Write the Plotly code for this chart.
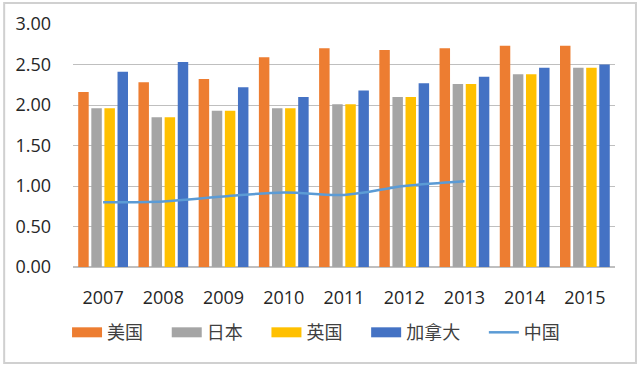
import plotly.graph_objects as go

years = ["2007", "2008", "2009", "2010", "2011", "2012", "2013", "2014", "2015"]
usa = [2.16, 2.28, 2.32, 2.59, 2.70, 2.68, 2.70, 2.73, 2.73]
japan = [1.96, 1.85, 1.93, 1.96, 2.01, 2.10, 2.26, 2.38, 2.46]
uk = [1.96, 1.85, 1.93, 1.96, 2.01, 2.10, 2.26, 2.38, 2.46]
canada = [2.41, 2.53, 2.22, 2.10, 2.18, 2.27, 2.35, 2.46, 2.50]
china_years = ["2007", "2008", "2009", "2010", "2011", "2012", "2013"]
china = [0.80, 0.81, 0.87, 0.92, 0.89, 1.00, 1.06]
y_ticks = [0, 0.5, 1.0, 1.5, 2.0, 2.5, 3.0]

bar_series = [
    ("美国", usa, "#ED7D31", 4),
    ("日本", japan, "#A5A5A5", 4),
    ("英国", uk, "#FFC000", 4),
    ("加拿大", canada, "#4472C4", 4),
]

fig = go.Figure()
for name, vals, col, pad in bar_series:
    fig.add_trace(go.Bar(x=years, y=vals, name=name, marker_color=col,
                         marker_line_width=0, showlegend=False))

fig.add_trace(go.Scatter(x=china_years, y=china, name="中国", mode="lines",
                         line=dict(color="#5B9BD5", width=2.5, shape="spline"),
                         showlegend=False))

# legend entries (wide swatches)
for name, vals, col, pad in bar_series:
    fig.add_trace(go.Scatter(x=[None], y=[None], name=name + "\u00a0" * pad,
                             mode="lines", line=dict(color=col, width=10)))
fig.add_trace(go.Scatter(x=[None], y=[None], name="中国", mode="lines",
                         line=dict(color="#5B9BD5", width=2.5)))

font_family = "Open Sans, Noto Sans CJK SC, sans-serif"

fig.update_layout(
    width=640, height=366,
    margin=dict(l=73, r=25, t=24, b=99, autoexpand=False),
    paper_bgcolor="white", plot_bgcolor="white",
    barmode="group", bargap=0.13, bargroupgap=0.2,
    font=dict(family=font_family, size=18, color="#262626"),
    showlegend=True,
    legend=dict(orientation="h", x=-0.011, xanchor="left", y=-0.27, yanchor="middle",
                font=dict(size=18, color="#404040"), itemwidth=30,
                traceorder="normal"),
    shapes=[dict(type="rect", xref="paper", yref="paper",
                 x0=-0.127, x1=1.0387, y0=-0.395, y1=1.0864,
                 line=dict(color="#D0D0D0", width=2), layer="below")],
)
fig.update_yaxes(range=[0, 3.0], tickvals=y_ticks, tickformat=".2f",
                 showgrid=True, gridcolor="#BFBFBF", gridwidth=1,
                 zeroline=True, zerolinecolor="#BFBFBF", showline=False,
                 ticklabelstandoff=21, fixedrange=True)
fig.update_xaxes(showline=True, linecolor="#BFBFBF", showgrid=False,
                 ticklabelstandoff=14, fixedrange=True)

fig.write_html("out.html", config={"displayModeBar": False},
               post_script="document.body.style.margin='0';")
